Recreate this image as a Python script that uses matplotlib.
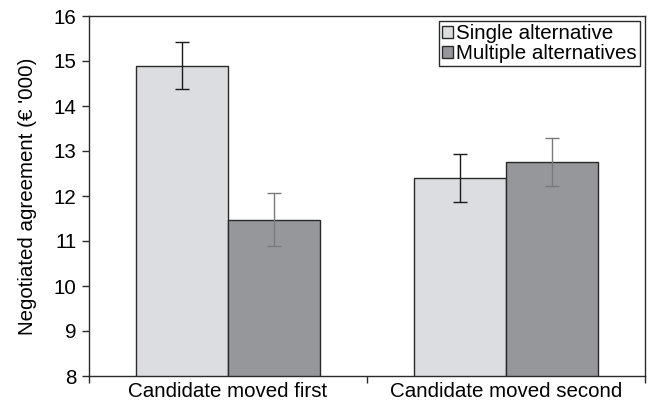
import matplotlib
matplotlib.use("Agg")
import matplotlib.pyplot as plt
import numpy as np

plt.rcParams['font.family'] = ['Liberation Sans', 'DejaVu Sans']

categories = ["Candidate moved first", "Candidate moved second"]
series_names = ["Single alternative", "Multiple alternatives"]
single = [14.9, 12.4]
multiple = [11.47, 12.76]
single_err = [0.53, 0.54]
multiple_err = [0.59, 0.54]

fig = plt.figure(figsize=(6.48, 4.04), dpi=100)
ax = fig.add_axes([89/648, 1-376/404, (645-89)/648, (376-16)/404])

x = np.arange(len(categories))
w = 0.331
ax.bar(x - w/2, single, w, color='#dcdde0', edgecolor='#2a2a2a', linewidth=1.0,
       label=series_names[0], zorder=2)
ax.bar(x + w/2, multiple, w, color='#96979b', edgecolor='#2a2a2a', linewidth=1.0,
       label=series_names[1], zorder=2)
ax.errorbar(x - w/2, single, yerr=single_err, fmt='none', ecolor='#1a1a1a', elinewidth=1.0,
            capsize=5, capthick=1.0, zorder=3)
ax.errorbar(x + w/2, multiple, yerr=multiple_err, fmt='none', ecolor='#7a7a7a', elinewidth=1.0,
            capsize=5, capthick=1.0, zorder=3)

fs = 14.8
ax.set_ylim(8, 16)
ax.set_xlim(-0.5, 1.5)
ax.set_yticks(range(8, 17))
ax.set_xticks(x)
ax.set_xticklabels(categories, fontsize=fs)
ax.tick_params(axis='x', which='major', length=0, pad=4)
ax.set_xticks([-0.5, 0.5, 1.5], minor=True)
ax.tick_params(axis='x', which='minor', length=5, width=1, direction='out', color='#2a2a2a')
ax.tick_params(axis='y', length=5, width=1, labelsize=fs, pad=4, color='#2a2a2a')
for s in ax.spines.values():
    s.set_linewidth(1.0)
    s.set_color('#2a2a2a')

ax.set_ylabel("Negotiated agreement (€ '000)", fontsize=fs, labelpad=12)

leg = ax.legend(loc='upper right', bbox_to_anchor=(0.991, 0.986), fontsize=fs,
                frameon=True, fancybox=False, edgecolor='#2a2a2a', framealpha=1,
                handlelength=0.55, handleheight=0.55, handletextpad=0.15,
                borderpad=0.15, labelspacing=0.05, borderaxespad=0)
leg.get_frame().set_linewidth(1.0)

fig.savefig("out.png", dpi=100)
